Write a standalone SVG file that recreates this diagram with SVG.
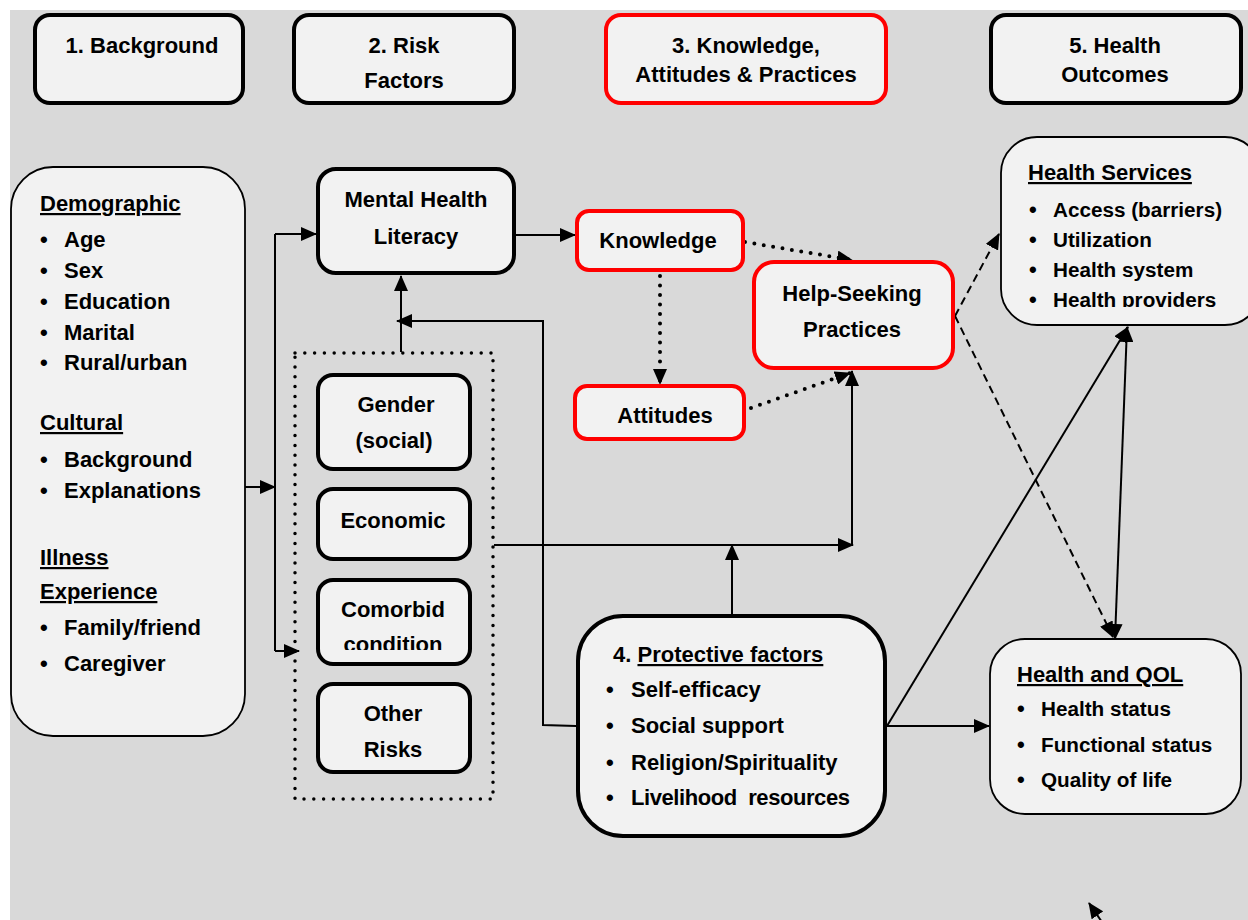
<svg xmlns="http://www.w3.org/2000/svg" width="1248" height="920" viewBox="0 0 1248 920">
<defs>
<style>
text{font-family:"Liberation Sans",Arial,sans-serif;font-weight:bold;font-size:22px;fill:#000}
.c{text-anchor:middle}
.u{text-decoration:underline}
.s{font-size:20.7px}
.box{fill:#f2f2f2;stroke:#000;stroke-width:4}
.thin{fill:#f2f2f2;stroke:#000;stroke-width:1.8}
.red{fill:#f2f2f2;stroke:#ff0000;stroke-width:4}
.ln{fill:none;stroke:#000;stroke-width:2}
.dash{fill:none;stroke:#000;stroke-width:2;stroke-dasharray:8 5}
.dot{fill:none;stroke:#000;stroke-width:4;stroke-linecap:round;stroke-dasharray:0 9.5}
.dotbox{fill:none;stroke:#000;stroke-width:3.5;stroke-linecap:round;stroke-dasharray:0 9.8}
</style>
<marker id="ah" markerUnits="userSpaceOnUse" markerWidth="16" markerHeight="14" refX="15" refY="7" orient="auto">
<path d="M0,0 L16,7 L0,14 Z" fill="#000"/>
</marker>
<marker id="ahs" markerUnits="userSpaceOnUse" markerWidth="16" markerHeight="14" refX="1" refY="7" orient="auto">
<path d="M16,0 L0,7 L16,14 Z" fill="#000"/>
</marker>
<clipPath id="clipCom"><rect x="316" y="578" width="156" height="72"/></clipPath>
<clipPath id="clipHS"><rect x="1001" y="137" width="247" height="170"/></clipPath>
</defs>

<rect x="0" y="0" width="1248" height="920" fill="#ffffff"/>
<rect x="10" y="10" width="1238" height="910" fill="#d9d9d9"/>

<g id="hdr1"><rect class="box" x="35" y="15" width="208" height="88" rx="15"/><text class="c" x="142" y="53">1. Background</text></g>
<g id="hdr2"><rect class="box" x="294" y="15" width="220" height="88" rx="15"/><text class="c" x="404" y="53">2. Risk</text><text class="c" x="404" y="88">Factors</text></g>
<g id="hdr3"><rect class="red" x="606" y="15" width="280" height="88" rx="15"/><text class="c" x="746" y="53">3. Knowledge,</text><text class="c" x="746" y="82">Attitudes &amp; Practices</text></g>
<g id="hdr5"><rect class="box" x="991" y="15" width="250" height="88" rx="15"/><text class="c" x="1115" y="53">5. Health</text><text class="c" x="1115" y="82">Outcomes</text></g>

<g id="connectors">
<path class="ln" d="M245,487 H275" marker-end="url(#ah)"/>
<path class="ln" d="M275,234 V651"/>
<path class="ln" d="M275,234 H316" marker-end="url(#ah)"/>
<path class="ln" d="M275,651 H299" marker-end="url(#ah)"/>
<path class="ln" d="M516,235 H575" marker-end="url(#ah)"/>
<path class="ln" d="M401,352 V276" marker-end="url(#ah)"/>
<path class="ln" d="M576,726 L543,725 V321 H397" marker-end="url(#ah)"/>
<path class="ln" d="M494,545 H853" marker-end="url(#ah)"/>
<path class="ln" d="M852,545 V371" marker-end="url(#ah)"/>
<path class="ln" d="M732,614 V545" marker-end="url(#ah)"/>
<path class="ln" d="M887,726 H989" marker-end="url(#ah)"/>
<path class="ln" d="M887,726 L1128,327" marker-end="url(#ah)"/>
<path class="ln" d="M1115,639 L1127,327" marker-start="url(#ahs)" marker-end="url(#ah)"/>
<path class="dash" d="M955,316 L999,234" marker-end="url(#ah)"/>
<path class="dash" d="M955,316 L1113,637" marker-end="url(#ah)"/>
<path class="dot" d="M745,242 L852,260" marker-end="url(#ah)"/>
<path class="dot" d="M660,276 V384" marker-end="url(#ah)"/>
<path class="dot" d="M751,408 L850,373" marker-end="url(#ah)"/>
<path class="ln" d="M1106,928 L1089,903" marker-end="url(#ah)"/>
</g>

<g id="background">
<rect class="thin" x="11" y="167" width="234" height="569" rx="42"/>
<text class="u" x="40" y="211">Demographic</text>
<g><text x="40" y="247">•</text><text x="64" y="247">Age</text></g>
<g><text x="40" y="278">•</text><text x="64" y="278">Sex</text></g>
<g><text x="40" y="309">•</text><text x="64" y="309">Education</text></g>
<g><text x="40" y="340">•</text><text x="64" y="340">Marital</text></g>
<g><text x="40" y="370">•</text><text x="64" y="370">Rural/urban</text></g>
<text class="u" x="40" y="430">Cultural</text>
<g><text x="40" y="467">•</text><text x="64" y="467">Background</text></g>
<g><text x="40" y="498">•</text><text x="64" y="498">Explanations</text></g>
<text class="u" x="40" y="565">Illness</text>
<text class="u" x="40" y="599">Experience</text>
<g><text x="40" y="635">•</text><text x="64" y="635">Family/friend</text></g>
<g><text x="40" y="671">•</text><text x="64" y="671">Caregiver</text></g>
</g>

<g id="mhl"><rect class="box" x="318" y="169" width="196" height="104" rx="18"/><text class="c" x="416" y="207">Mental Health</text><text class="c" x="416" y="244">Literacy</text></g>

<g id="riskgroup"><rect class="dotbox" x="295" y="353" width="198" height="446"/></g>
<g id="gender"><rect class="box" x="318" y="375" width="152" height="94" rx="15"/><text class="c" x="396" y="412">Gender</text><text class="c" x="394" y="448">(social)</text></g>
<g id="economic"><rect class="box" x="318" y="489" width="152" height="70" rx="15"/><text class="c" x="393" y="528">Economic</text></g>
<g id="comorbid"><rect class="box" x="318" y="580" width="152" height="84" rx="15"/><text class="c" x="393" y="617">Comorbid</text><text class="c" x="393" y="652" clip-path="url(#clipCom)">condition</text></g>
<g id="other"><rect class="box" x="318" y="684" width="152" height="88" rx="15"/><text class="c" x="393" y="721">Other</text><text class="c" x="393" y="757">Risks</text></g>

<g id="knowledge"><rect class="red" x="577" y="211" width="166" height="59" rx="12"/><text class="c" x="658" y="248">Knowledge</text></g>
<g id="attitudes"><rect class="red" x="575" y="386" width="169" height="53" rx="12"/><text class="c" x="665" y="423">Attitudes</text></g>
<g id="helpseeking"><rect class="red" x="754" y="262" width="199" height="106" rx="20"/><text class="c" x="852" y="301">Help-Seeking</text><text class="c" x="852" y="337">Practices</text></g>

<g id="protective">
<rect class="box" x="578" y="616" width="307" height="220" rx="45"/>
<text x="613" y="662">4. <tspan class="u">Protective factors</tspan></text>
<g><text x="606" y="697">•</text><text x="631" y="697">Self-efficacy</text></g>
<g><text x="606" y="733">•</text><text x="631" y="733">Social support</text></g>
<g><text x="606" y="770">•</text><text x="631" y="770">Religion/Spirituality</text></g>
<g><text x="606" y="805">•</text><text x="631" y="805" xml:space="preserve" textLength="219">Livelihood  resources</text></g>
</g>

<g id="healthservices">
<rect class="thin" x="1001" y="137" width="260" height="188" rx="36"/>
<text class="u" x="1028" y="180">Health Services</text>
<g><text x="1029" y="217">•</text><text class="s" x="1053" y="217">Access (barriers)</text></g>
<g><text x="1029" y="247">•</text><text class="s" x="1053" y="247">Utilization</text></g>
<g><text x="1029" y="277">•</text><text class="s" x="1053" y="277">Health system</text></g>
<g clip-path="url(#clipHS)"><text x="1029" y="307">•</text><text class="s" x="1053" y="307">Health providers</text></g>
</g>

<g id="healthqol">
<rect class="thin" x="990" y="639" width="251" height="175" rx="35"/>
<text class="u" x="1017" y="682">Health and QOL</text>
<g><text x="1017" y="716">•</text><text class="s" x="1041" y="716">Health status</text></g>
<g><text x="1017" y="752">•</text><text class="s" x="1041" y="752">Functional status</text></g>
<g><text x="1017" y="787">•</text><text class="s" x="1041" y="787">Quality of life</text></g>
</g>
</svg>
